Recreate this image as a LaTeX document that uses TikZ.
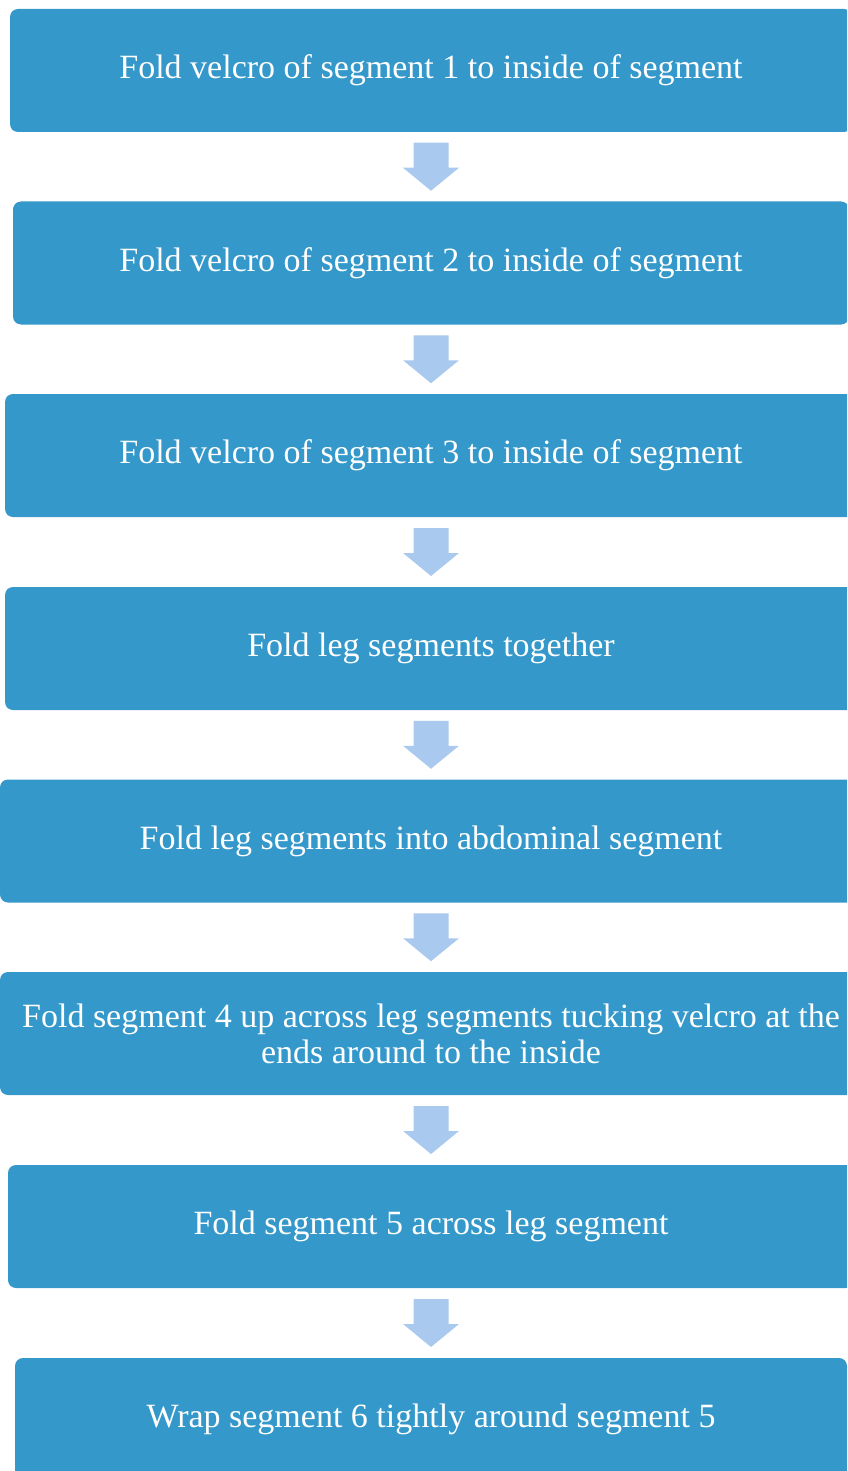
\documentclass[tikz,border=0pt]{standalone}
\usepackage{fontspec}
\setmainfont{Liberation Serif}
\usetikzlibrary{calc}

\definecolor{stepblue}{HTML}{3498CA}
\definecolor{arrowblue}{HTML}{A9CAEE}

\tikzset{
  stepbox/.style={fill=stepblue,rounded corners=8pt,inner sep=0pt,
    minimum height=123pt,text=white,align=center,
    font=\fontsize{34}{36}\selectfont},
  arrowfill/.style={fill=arrowblue}
}

% step box: name, left edge, centre y, text (text always centred at x=431)
\newcommand{\FStep}[4]{\node[stepbox,minimum width={2*(431-#2)*1pt}] (#1) at (431,#3) {#4};}
% block arrow in the gap between two steps
\newcommand{\FArrow}[2]{%
  \path (#1.south) -- (#2.north) coordinate[pos=0.5] (#1#2);
  \fill[arrowfill] (#1#2) ++(-17.5,-24) -- ++(35,0) -- ++(0,25) -- ++(10.5,0)
    -- ++(-28,23) -- ++(-28,-23) -- ++(10.5,0) -- cycle;}

\begin{document}
\begin{tikzpicture}[x=1pt,y=-1pt]
  \useasboundingbox (0,0) rectangle (847,1471);
  \clip (0,0) rectangle (847,1471);
  \FStep{s1}{10}{70.5}{Fold velcro of segment 1 to inside of segment}
  \FStep{s2}{13}{263}{Fold velcro of segment 2 to inside of segment}
  \FStep{s3}{5}{455.5}{Fold velcro of segment 3 to inside of segment}
  \FStep{s4}{5}{648.5}{Fold leg segments together}
  \FStep{s5}{0}{841}{Fold leg segments into abdominal segment}
  \FStep{s6}{0}{1033.5}{Fold segment 4 up across leg segments tucking velcro at the\\ends around to the inside}
  \FStep{s7}{8}{1226.5}{Fold segment 5 across leg segment}
  \FStep{s8}{15}{1419.5}{Wrap segment 6 tightly around segment 5}
  \foreach \a/\b in {s1/s2,s2/s3,s3/s4,s4/s5,s5/s6,s6/s7,s7/s8}{\FArrow{\a}{\b}}
\end{tikzpicture}
\end{document}
